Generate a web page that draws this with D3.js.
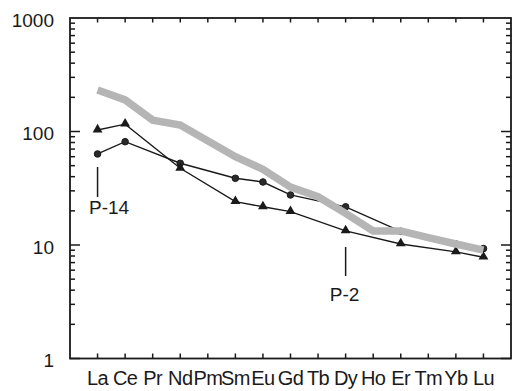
<!DOCTYPE html>
<html><head><meta charset="utf-8">
<script src="https://cdn.jsdelivr.net/npm/d3@7"></script>
<style>body{margin:0;background:#fff}svg{display:block}text{font-family:"Liberation Sans",Arial,sans-serif;fill:#1a1a1a}</style>
</head><body><svg id="c" width="517" height="391"></svg>
<script>
const elements = ["La","Ce","Pr","Nd","Pm","Sm","Eu","Gd","Tb","Dy","Ho","Er","Tm","Yb","Lu"];
const reference = [232,190,126,114,null,60,46.4,32.4,26.6,19.0,13.3,13.3,11.6,10.2,9.0];
const p2  = [103,116,null,47.4,null,24.1,21.7,19.7,null,13.3,null,10.2,null,8.7,7.8];
const p14 = [63.4,81.3,null,52.5,null,38.7,35.9,27.6,null,21.7,null,13.2,null,10.2,9.3];
const yTickLabels = [1,10,100,1000];

const svg = d3.select("#c");
const L=70, R=511, T=18, B=358.5;
const x = d3.scaleLinear().domain([0,16]).range([L,R]);
const y = d3.scaleLog().domain([1,1000]).range([B,T]);
const ink = "#1a1a1a";

const pts = arr => arr.map((v,i)=>({i:i+1,v})).filter(d=>d.v!=null);
const line = d3.line().x(d=>x(d.i)).y(d=>y(d.v));

// data lines
[p14,p2].forEach(s=>{
  svg.append("path").attr("d",line(pts(s))).attr("fill","none")
    .attr("stroke",ink).attr("stroke-width",1.4);
});
// circles (P-14)
svg.selectAll("circle.p14").data(pts(p14)).join("circle")
  .attr("cx",d=>x(d.i)).attr("cy",d=>y(d.v)).attr("r",3.3)
  .attr("fill","#2a2a2a").attr("stroke",ink).attr("stroke-width",1);
// triangles (P-2)
const tri = d3.symbol().type(d3.symbolTriangle).size(42);
svg.selectAll("path.p2").data(pts(p2)).join("path")
  .attr("d",tri).attr("transform",d=>`translate(${x(d.i)},${y(d.v)-0.5})`)
  .attr("fill",ink);
// reference gray band
svg.append("path").attr("d",line(pts(reference))).attr("fill","none")
  .attr("stroke","#b5b5b5").attr("stroke-width",7.5)
  .attr("stroke-linejoin","miter").attr("stroke-linecap","butt");

// frame
svg.append("rect").attr("x",L).attr("y",T).attr("width",R-L).attr("height",B-T)
  .attr("fill","none").attr("stroke",ink).attr("stroke-width",1.8);

// y ticks (inside, both sides)
const g = svg.append("g").attr("stroke",ink).attr("stroke-width",1.5);
for(let d=0; d<3; d++){
  for(let m=1; m<=9; m++){
    const v = Math.pow(10,d)*m;
    const len = m===1?10:5;
    g.append("line").attr("x1",L).attr("x2",L+len).attr("y1",y(v)).attr("y2",y(v));
    g.append("line").attr("x1",R).attr("x2",R-len).attr("y1",y(v)).attr("y2",y(v));
  }
}
// x ticks
elements.forEach((e,k)=>{
  const xx = x(k+1);
  g.append("line").attr("x1",xx).attr("x2",xx).attr("y1",B).attr("y2",B-5);
  g.append("line").attr("x1",xx).attr("x2",xx).attr("y1",T).attr("y2",T+4.5);
});

// y labels
svg.selectAll("text.yl").data(yTickLabels).join("text")
  .attr("x",54).attr("y",d=>y(d)).attr("dy","0.45em").attr("text-anchor","end")
  .attr("font-size",19).text(d=>d);
// x labels
svg.selectAll("text.xl").data(elements).join("text")
  .attr("x",(d,i)=>x(i+1)).attr("y",384.5).attr("text-anchor","middle")
  .attr("font-size",20).attr("letter-spacing",-0.6).text(d=>d);

// sample annotations
svg.append("line").attr("x1",x(1)).attr("x2",x(1)).attr("y1",167).attr("y2",197)
  .attr("stroke",ink).attr("stroke-width",1.5);
svg.append("text").attr("x",89).attr("y",214).attr("font-size",19).text("P-14");
svg.append("line").attr("x1",x(10)).attr("x2",x(10)).attr("y1",247).attr("y2",276)
  .attr("stroke",ink).attr("stroke-width",1.5);
svg.append("text").attr("x",x(10)-1).attr("y",300.7).attr("text-anchor","middle").attr("font-size",19).text("P-2");
</script></body></html>
